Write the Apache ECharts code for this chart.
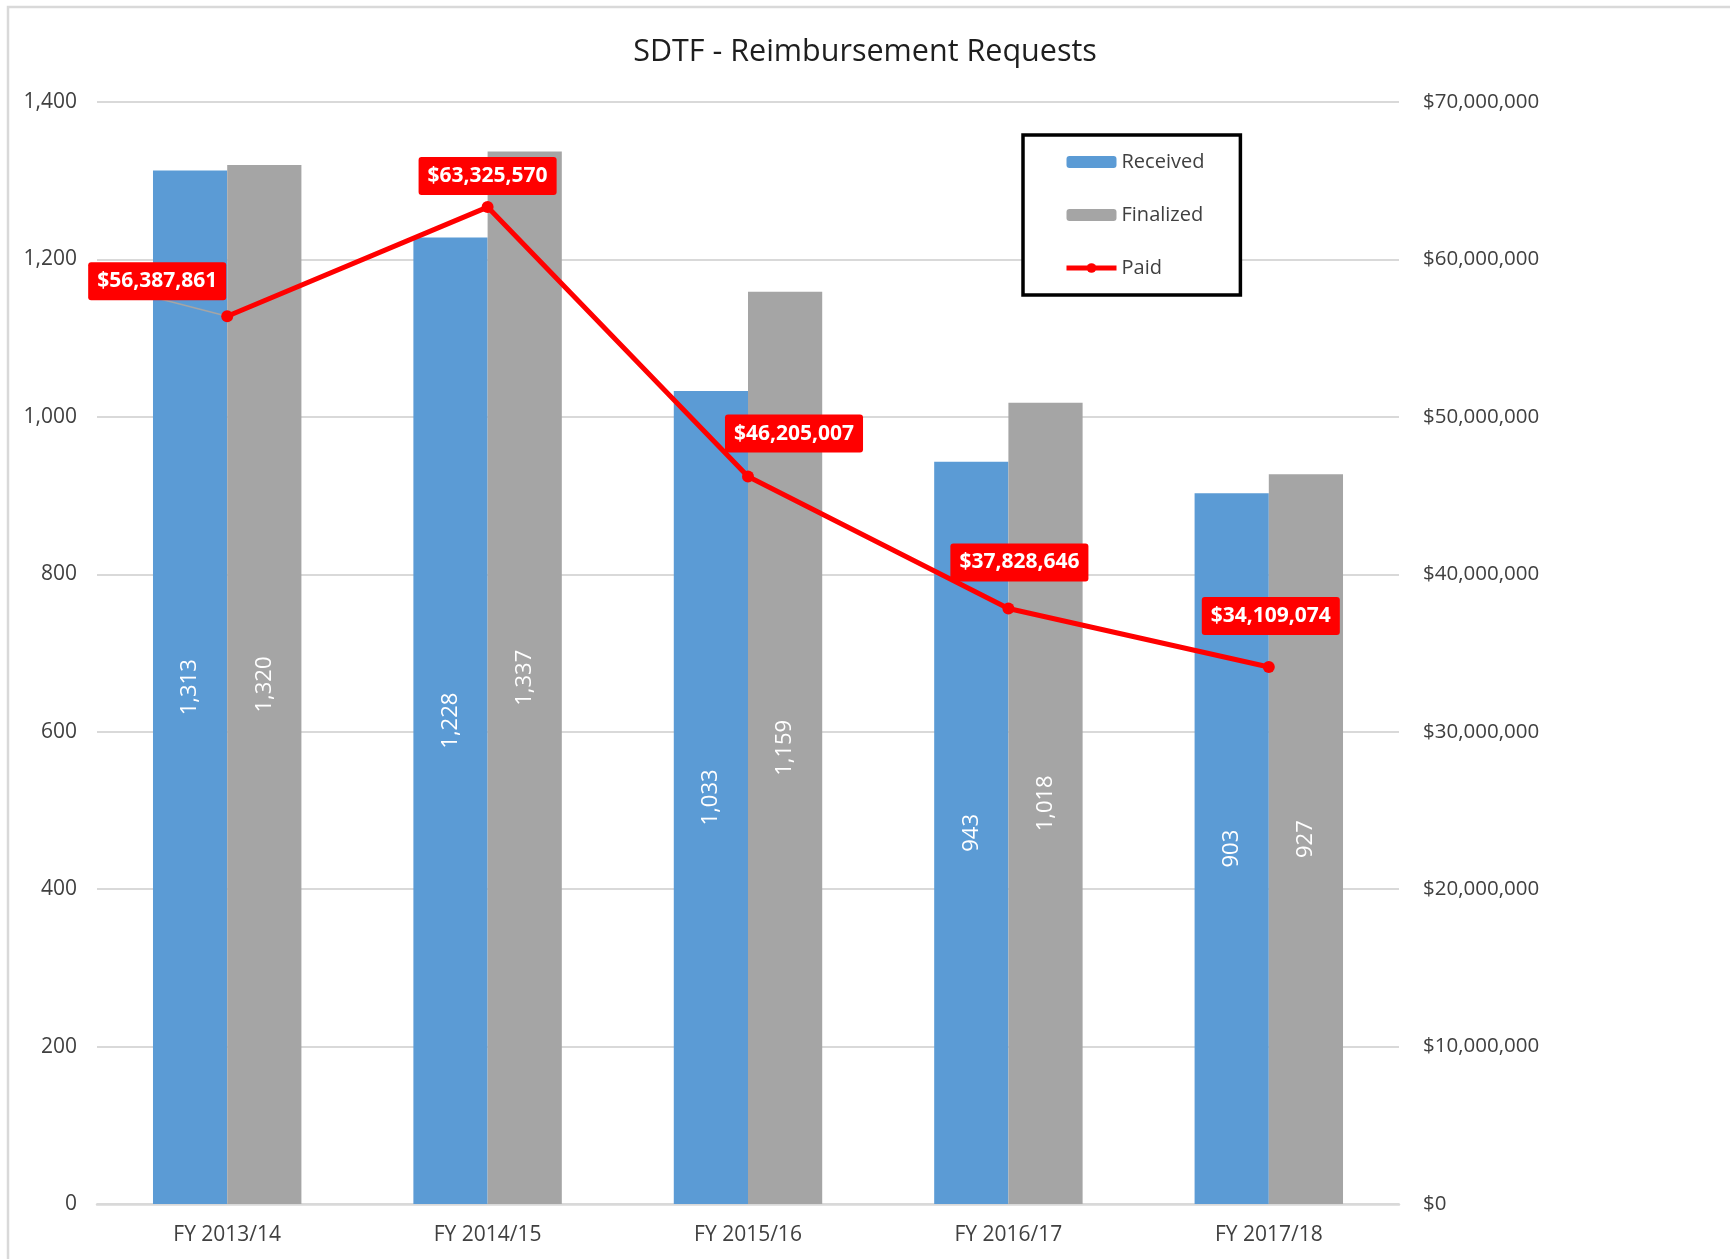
<!DOCTYPE html>
<html>
<head>
<meta charset="utf-8">
<title>SDTF - Reimbursement Requests</title>
<script src="https://cdn.jsdelivr.net/npm/echarts@6/dist/echarts.min.js"></script>
<style>
  html, body { margin: 0; padding: 0; background: #ffffff; }
  #chart { width: 1730px; height: 1259px; }
</style>
</head>
<body>
<div id="chart"></div>
<script>
// ---- data ----
const fiscalYears = ['FY 2013/14', 'FY 2014/15', 'FY 2015/16', 'FY 2016/17', 'FY 2017/18'];
const received = [1313, 1228, 1033, 943, 903];
const finalized = [1320, 1337, 1159, 1018, 927];
const paid = [56387861, 63325570, 46205007, 37828646, 34109074];

// ---- axis ticks ----
const countTicks = [0, 200, 400, 600, 800, 1000, 1200, 1400];
const dollarTicks = [0, 10000000, 20000000, 30000000, 40000000, 50000000, 60000000, 70000000];

// ---- helpers ----
const fmtNum = v => Number(v).toLocaleString('en-US');
const fmtDollar = v => '$' + fmtNum(v);

const FONT = 'Open Sans';
const TEXT = '#404040';
const GRID_LINE = '#d9d9d9';

// where each "Paid" value label sits relative to its point (dx, dy in px),
// and which labels get a leader line back to their point
const paidLabelShift = [[-70, -35], [0, -31], [46, -43], [11, -46], [2, -51]];
const paidLeader = [true, false, false, false, false];

const chart = echarts.init(document.getElementById('chart'), null, { renderer: 'canvas' });

const barLabel = {
  show: true, position: 'inside', rotate: 90,
  color: '#ffffff', fontFamily: FONT, fontSize: 22,
  formatter: p => fmtNum(p.value)
};

const option = {
  backgroundColor: '#ffffff',
  animation: false,
  textStyle: { fontFamily: FONT },
  graphic: [{
    type: 'rect',
    silent: true,
    shape: { x: 8, y: 7, width: 1800, height: 1320 },
    style: { fill: 'none', stroke: GRID_LINE, lineWidth: 2.5 }
  }],
  title: {
    text: 'SDTF - Reimbursement Requests',
    left: 'center',
    top: 32,
    textStyle: { fontFamily: FONT, fontSize: 30.5, fontWeight: 'normal', color: '#1e1e1e' }
  },
  legend: {
    orient: 'vertical',
    left: 1023,
    top: 135,
    padding: [17, 36, 17, 41],
    itemGap: 33,
    itemWidth: 50,
    itemHeight: 12,
    borderColor: '#000000',
    borderWidth: 3.5,
    backgroundColor: '#ffffff',
    textStyle: { fontFamily: FONT, fontSize: 20, color: TEXT },
    data: [
      { name: 'Received' },
      { name: 'Finalized' },
      { name: 'Paid', lineStyle: { width: 5 } }
    ]
  },
  grid: { left: 97, right: 331, top: 102, bottom: 55 },
  xAxis: {
    type: 'category',
    data: fiscalYears,
    axisLine: { show: true, lineStyle: { color: GRID_LINE, width: 2.5 } },
    axisTick: { show: false },
    axisLabel: { fontFamily: FONT, fontSize: 21, color: TEXT, margin: 21 }
  },
  yAxis: [
    {
      type: 'value',
      min: countTicks[0],
      max: countTicks[countTicks.length - 1],
      interval: countTicks[1] - countTicks[0],
      axisLine: { show: false },
      axisTick: { show: false },
      splitLine: { show: true, lineStyle: { color: GRID_LINE, width: 2 } },
      axisLabel: { fontFamily: FONT, fontSize: 21, color: TEXT, margin: 20, formatter: fmtNum }
    },
    {
      type: 'value',
      position: 'right',
      min: dollarTicks[0],
      max: dollarTicks[dollarTicks.length - 1],
      interval: dollarTicks[1] - dollarTicks[0],
      axisLine: { show: false },
      axisTick: { show: false },
      splitLine: { show: false },
      axisLabel: { fontFamily: FONT, fontSize: 20.5, color: TEXT, margin: 24, formatter: fmtDollar }
    }
  ],
  series: [
    {
      name: 'Received',
      type: 'bar',
      yAxisIndex: 0,
      data: received,
      barGap: '0%',
      barCategoryGap: '43%',
      itemStyle: { color: '#5b9bd5' },
      label: barLabel,
      z: 2
    },
    {
      name: 'Finalized',
      type: 'bar',
      yAxisIndex: 0,
      data: finalized,
      barGap: '0%',
      barCategoryGap: '43%',
      itemStyle: { color: '#a5a5a5' },
      label: barLabel,
      z: 2
    },
    {
      // thin grey leader from a displaced value label back to its point
      name: 'Paid leader',
      type: 'custom',
      yAxisIndex: 1,
      silent: true,
      data: paid.map((v, i) => [i, v]),
      renderItem: (params, api) => {
        const i = params.dataIndex;
        if (!paidLeader[i]) return null;
        const pt = api.coord([api.value(0), api.value(1)]);
        const s = paidLabelShift[i];
        return {
          type: 'line',
          shape: { x1: pt[0] + s[0] + 4, y1: pt[1] + s[1] + 18, x2: pt[0], y2: pt[1] },
          style: { stroke: '#a5a5a5', lineWidth: 1.5 }
        };
      },
      z: 3
    },
    {
      name: 'Paid',
      type: 'line',
      yAxisIndex: 1,
      data: paid,
      symbol: 'circle',
      symbolSize: 12,
      lineStyle: { color: '#ff0000', width: 5 },
      itemStyle: { color: '#ff0000' },
      label: {
        show: true,
        position: 'inside',
        formatter: p => fmtDollar(p.value),
        color: '#ffffff',
        fontFamily: FONT,
        fontWeight: 'bold',
        fontSize: 21,
        backgroundColor: '#ff0000',
        padding: [9, 9, 8, 9],
        borderRadius: 3
      },
      labelLayout: p => {
        const s = paidLabelShift[p.dataIndex];
        return { dx: s[0], dy: s[1] };
      },
      z: 5
    }
  ]
};

chart.setOption(option);
</script>
</body>
</html>
